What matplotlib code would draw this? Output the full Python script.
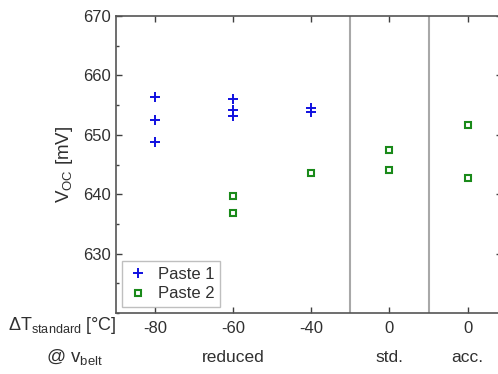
import matplotlib
matplotlib.use("Agg")
import matplotlib.pyplot as plt
import matplotlib.transforms as mtrans
from matplotlib.ticker import MultipleLocator

plt.rcParams['font.family'] = ['Liberation Sans', 'DejaVu Sans']
plt.rcParams['mathtext.fontset'] = 'custom'
plt.rcParams['mathtext.rm'] = 'Liberation Sans'
plt.rcParams['mathtext.it'] = 'Liberation Sans'

# categories (x positions index) and tick labels
tick_labels = ['-80', '-60', '-40', '0', '0']
group_labels = ['reduced', 'std.', 'acc.']
group_pos = [1, 3, 4]

# Paste 1 data: (category index, Voc)
p1_x = [0, 0, 0, 1, 1, 1, 2, 2]
p1_y = [656.4, 652.5, 648.8, 656.0, 654.2, 653.1, 654.5, 653.9]
# Paste 2 data
p2_x = [1, 1, 2, 3, 3, 4, 4]
p2_y = [639.7, 636.9, 643.5, 647.4, 644.1, 651.6, 642.7]

dividers = [2.5, 3.5]

fig = plt.figure(figsize=(4.98, 3.74), dpi=100)
W, H = 498, 374
left, right, top, bottom = 116, 502, 16, 313
ax = fig.add_axes([left / W, 1 - bottom / H, (right - left) / W, (bottom - top) / H])

for d in dividers:
    ax.axvline(d, color='#a8a8a8', lw=1.5, zorder=1)

ax.plot(p1_x, p1_y, ls='none', marker='+', ms=7.5, mew=1.4, color='#1010e0', label='Paste 1', zorder=3)
ax.plot(p2_x, p2_y, ls='none', marker='s', ms=5, mew=1.5, mfc='none', color='#1a8a1a', label='Paste 2', zorder=3)

ax.set_xlim(-0.5, 4.44)
ax.set_ylim(620, 670)
ax.set_xticks(range(len(tick_labels)))
ax.set_xticklabels(tick_labels)
ax.set_yticks([630, 640, 650, 660, 670])
ax.yaxis.set_minor_locator(MultipleLocator(5))
ax.tick_params(axis='both', which='both', direction='in', top=True, right=True,
               labelsize=12, colors='#404040', labelcolor='#303030')
ax.tick_params(which='major', length=4, width=1)
ax.tick_params(which='minor', length=2.5, width=1)
ax.tick_params(axis='x', pad=6)
for s in ax.spines.values():
    s.set_color('#555555')
    s.set_linewidth(1.2)

ax.set_ylabel(r'V$_{\mathrm{OC}}$ [mV]', fontsize=13.5, color='#303030', labelpad=6)

leg = ax.legend(loc='lower left', fontsize=12, frameon=True, fancybox=False,
                edgecolor='#b0b0b0', handletextpad=0.6, borderpad=0.35,
                handlelength=1.2, labelspacing=0.25, bbox_to_anchor=(0.0, 0.0),
                borderaxespad=0.35)
leg.get_frame().set_linewidth(1.0)
for t in leg.get_texts():
    t.set_color('#303030')

fig.text(117 / W, 1 - 325 / H, r'$\Delta$T$_{\mathrm{standard}}$ [°C]', ha='right', va='center',
         fontsize=13, color='#303030')
fig.text(103 / W, 1 - 357 / H, r'@ v$_{\mathrm{belt}}$', ha='right', va='center',
         fontsize=13.5, color='#303030')
trans = mtrans.blended_transform_factory(ax.transData, fig.transFigure)
for g, p in zip(group_labels, group_pos):
    fig.text(p, 1 - 357 / H, g, transform=trans, ha='center', va='center',
             fontsize=12.5, color='#303030')

fig.savefig('out.png', dpi=100)
